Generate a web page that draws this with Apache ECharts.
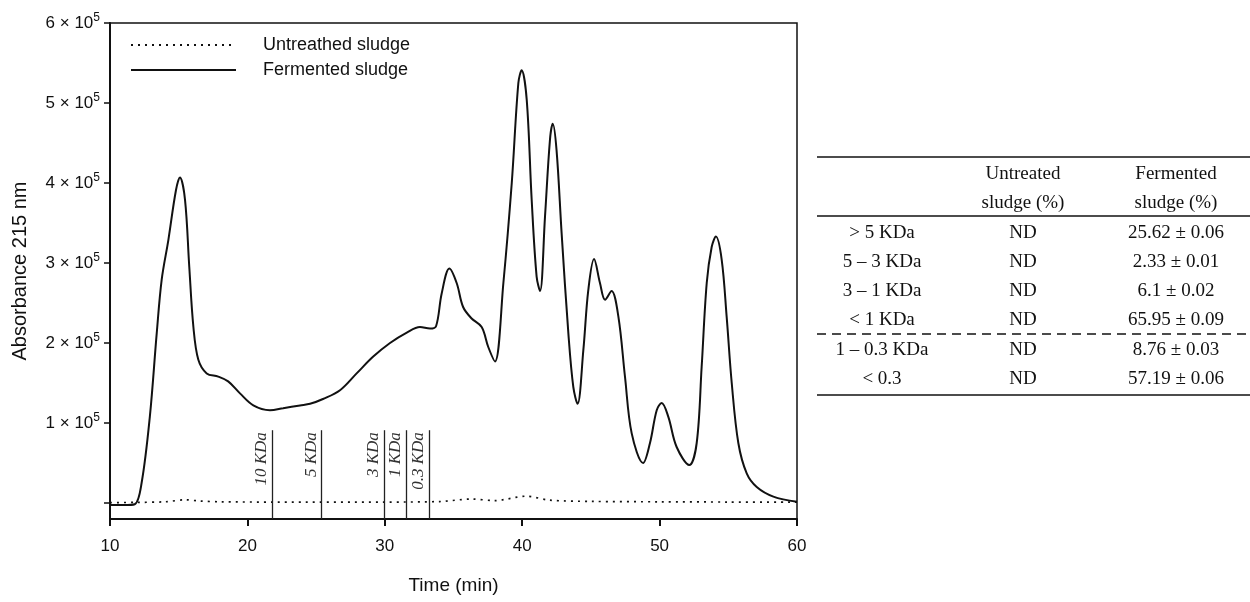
<!DOCTYPE html>
<html>
<head>
<meta charset="utf-8">
<script src="https://cdn.jsdelivr.net/npm/echarts@6/dist/echarts.min.js"></script>
<style>
  html, body { margin: 0; padding: 0; background: #fff; }
  #main { width: 1250px; height: 602px; }
</style>
</head>
<body>
<div id="main"></div>
<script>
// fermented sludge trace (time in min, absorbance)
const fermTime = [10.0, 11.0, 11.8, 12.3, 12.9, 13.4, 13.76, 14.25, 14.8, 15.09, 15.46, 15.77, 16.07, 16.43,
  17.04, 17.88, 18.6, 19.46, 20.43, 21.64, 22.6, 23.83, 24.56, 25.5, 26.74, 27.95, 29.16, 30.38, 31.6,
  32.56, 33.29, 33.73, 34.14, 34.7, 35.23, 35.7, 36.3, 37.05, 37.53, 38.02, 38.63, 39.24, 39.72, 39.96,
  40.33, 40.69, 41.05, 41.3, 41.66, 42.02, 42.22, 42.5, 42.87, 43.36, 43.72, 44.03, 44.45, 44.81, 45.23,
  45.66, 46.03, 46.5, 47.0, 47.48, 47.97, 48.8, 49.3, 49.79, 50.15, 50.63, 51.24, 52.16, 52.7, 53.06,
  53.43, 53.79, 54.1, 54.52, 54.88, 55.25, 55.73, 56.34, 57.07, 58.28, 60.0];
const fermAbs = [-2500, -2500, -1500, 25000, 108000, 212000, 279000, 329000, 391000, 407000, 379000, 295000, 220000, 179000,
  162000, 158000, 152000, 137000, 122000, 116000, 118500, 122000, 124000, 130000, 141000, 162000, 183000, 200000, 213000,
  220000, 218000, 221000, 262000, 293000, 275000, 245000, 231000, 220000, 195000, 177000, 275000, 400000, 525000, 541000,
  504000, 379000, 283000, 265000, 358000, 454000, 474000, 441000, 337000, 212000, 145000, 124000, 191000, 266000, 305000,
  275000, 254000, 265000, 233000, 158000, 87000, 50000, 75000, 116000, 125000, 108000, 70000, 47500, 75000, 170000,
  275000, 320000, 333000, 304000, 233000, 150000, 75000, 37000, 20000, 8000, 1500];

// untreated sludge trace
const untrTime = [10, 12, 14, 15.5, 16.5, 18, 22, 30, 34, 36.3, 38, 40.3, 42, 45, 50, 55, 60];
const untrAbs = [500, 800, 1500, 4000, 2500, 1500, 1200, 1200, 1800, 5000, 3000, 8500, 3500, 2000, 1500, 1200, 1000];

// molecular weight cut-off markers
const cutoffTime = [21.8, 25.4, 29.95, 31.55, 33.2];
const cutoffLabel = ['10 KDa', '5 KDa', '3 KDa', '1 KDa', '0.3 KDa'];
const cutoffTop = 91000;

const yTickVals = [0, 100000, 200000, 300000, 400000, 500000, 600000];
const yLabelVals = [100000, 200000, 300000, 400000, 500000, 600000];

// table
const headLine1 = ['', 'Untreated', 'Fermented'];
const headLine2 = ['', 'sludge (%)', 'sludge (%)'];
const fractions = ['> 5 KDa', '5 \u2013 3 KDa', '3 \u2013 1 KDa', '< 1 KDa', '1 \u2013 0.3 KDa', '< 0.3'];
const untreatedPct = ['ND', 'ND', 'ND', 'ND', 'ND', 'ND'];
const fermentedPct = ['25.62 \u00b1 0.06', '2.33 \u00b1 0.01', '6.1 \u00b1 0.02', '65.95 \u00b1 0.09', '8.76 \u00b1 0.03', '57.19 \u00b1 0.06'];

const sans = 'Liberation Sans, Arial, sans-serif';
const serif = 'Liberation Serif, Times New Roman, serif';

const zip = (a, b) => a.map((v, i) => [v, b[i]]);

// table graphics
const colX = [882, 1023, 1176];
const rowY = [233, 262, 291, 320, 350, 379];
const tFont = '19px ' + serif;
let graphics = [];
function hline(y, dash) {
  graphics.push({
    type: 'line', shape: {x1: 817, y1: y, x2: 1250, y2: y},
    style: {stroke: '#111', lineWidth: 1.5, lineDash: dash || null}
  });
}
function txt(s, x, y) {
  if (!s) return;
  graphics.push({
    type: 'text', x: x, y: y,
    style: {text: s, font: tFont, fill: '#111', textAlign: 'center', textVerticalAlign: 'middle'}
  });
}
hline(157); hline(216); hline(334, [9, 6]); hline(395);
for (let c = 0; c < 3; c++) {
  txt(headLine1[c], colX[c], 174);
  txt(headLine2[c], colX[c], 203);
}
for (let r = 0; r < fractions.length; r++) {
  txt(fractions[r], colX[0], rowY[r]);
  txt(untreatedPct[r], colX[1], rowY[r]);
  txt(fermentedPct[r], colX[2], rowY[r]);
}

const chart = echarts.init(document.getElementById('main'));
const option = {
  animation: false,
  backgroundColor: '#fff',
  grid: {left: 110, right: 453, top: 23, bottom: 83, show: true, borderColor: '#111', borderWidth: 1.5},
  legend: {
    left: 125, top: 31, orient: 'vertical',
    itemWidth: 105, itemHeight: 14, itemGap: 7,
    data: ['Untreathed sludge', 'Fermented sludge'],
    itemStyle: {opacity: 0},
    textStyle: {fontFamily: sans, fontSize: 18, color: '#111', padding: [0, 0, 0, 22]}
  },
  xAxis: {
    type: 'value', min: 10, max: 60, interval: 10,
    name: 'Time (min)', nameLocation: 'middle', nameGap: 57,
    nameTextStyle: {fontFamily: sans, fontSize: 19, color: '#111'},
    axisLine: {onZero: false, lineStyle: {color: '#111', width: 2}},
    axisTick: {length: 7, lineStyle: {color: '#111', width: 2}},
    axisLabel: {margin: 19, fontFamily: sans, fontSize: 17, color: '#111'},
    splitLine: {show: false}
  },
  yAxis: {
    type: 'value', min: -20000, max: 600000,
    name: 'Absorbance 215 nm', nameLocation: 'middle', nameGap: 80,
    nameTextStyle: {fontFamily: sans, fontSize: 20, color: '#111'},
    axisLine: {onZero: false, lineStyle: {color: '#111', width: 2}},
    axisTick: {length: 6, customValues: yTickVals, lineStyle: {color: '#111', width: 1.5}},
    axisLabel: {
      margin: 10, customValues: yLabelVals,
      formatter: v => '{b|' + (v / 100000) + ' \u00d7 10}{s|5}',
      rich: {
        b: {fontFamily: sans, fontSize: 17, color: '#111'},
        s: {fontFamily: sans, fontSize: 12, color: '#111', padding: [0, 0, 10, 0]}
      }
    },
    splitLine: {show: false}
  },
  series: [
    {
      name: 'Untreathed sludge', type: 'line', data: zip(untrTime, untrAbs),
      showSymbol: false, symbol: 'none', smooth: 0.3,
      lineStyle: {color: '#111', width: 1.7, type: [2, 5]}, itemStyle: {color: '#111'}
    },
    {
      name: 'Fermented sludge', type: 'line', data: zip(fermTime, fermAbs),
      showSymbol: false, symbol: 'none', smooth: 0.35,
      lineStyle: {color: '#111', width: 2}, itemStyle: {color: '#111'}
    },
    {
      name: 'cutoffs', type: 'line', data: [],
      markLine: {
        silent: true, symbol: 'none', animation: false,
        lineStyle: {color: '#222', width: 1.3, type: 'solid'},
        label: {
          position: 'insideEndTop', distance: 2,
          fontFamily: serif, fontStyle: 'italic', fontSize: 17, color: '#333'
        },
        data: cutoffTime.map((t, i) => [
          {coord: [t, -20000], name: cutoffLabel[i], label: {formatter: cutoffLabel[i]}},
          {coord: [t, cutoffTop]}
        ])
      }
    }
  ],
  graphic: graphics
};
chart.setOption(option);
</script>
</body>
</html>
